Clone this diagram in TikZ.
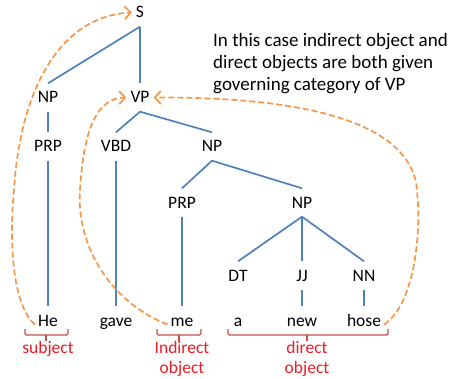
\documentclass[tikz,border=0pt]{standalone}
\usepackage{fontspec}
\setmainfont{Carlito}
\usetikzlibrary{arrows.meta}
\definecolor{treeblue}{HTML}{4F81BD}
\definecolor{linkorange}{HTML}{F79646}
\definecolor{bracered}{HTML}{C0504D}
\definecolor{labelred}{HTML}{EE1C24}
\tikzset{
  lbl/.style={font=\fontsize{17.5}{21}\selectfont, anchor=base, text height=11pt, text depth=0pt,
    inner xsep=3pt, inner ysep=8.5pt},
  edge/.style={draw=treeblue, line width=1.7pt},
  link/.style={draw=linkorange, line width=1.7pt, dash pattern=on 6pt off 3pt,
    -{Straight Barb[length=6pt,width=13pt,line width=1.7pt]}},
  brace/.style={draw=bracered, line width=1.4pt, rounded corners=1.5pt},
  role/.style={font=\fontsize{17.5}{21}\selectfont, text=labelred, anchor=base, inner sep=0pt},
  note/.style={font=\fontsize{19}{22}\selectfont, anchor=base west, inner sep=0pt}
}
\begin{document}
\begin{tikzpicture}[x=1pt,y=-1pt]
\useasboundingbox (0,0) rectangle (454,379);
% constituents
\node[lbl] (S)    at (140,18)  {S};
\node[lbl] (NPa)  at (48,103)  {NP};
\node[lbl] (VP)   at (140,103) {VP};
\node[lbl] (PRPa) at (48,152)  {PRP};
\node[lbl] (VBD)  at (116,152) {VBD};
\node[lbl] (NPb)  at (212,152) {NP};
\node[lbl] (PRPb) at (182,208) {PRP};
\node[lbl] (NPc)  at (302,208) {NP};
\node[lbl] (DT)   at (238,281) {DT};
\node[lbl] (JJ)   at (302,281) {JJ};
\node[lbl] (NN)   at (364,281) {NN};
% words
\node[lbl] (he)   at (48,326)  {He};
\node[lbl] (gave) at (116,326) {gave};
\node[lbl] (me)   at (182,326) {me};
\node[lbl] (a)    at (238,326) {a};
\node[lbl] (new)  at (302,326) {new};
\node[lbl] (hose) at (364,326) {hose};
% tree edges
\draw[edge] (S.south) -- (NPa.north);
\draw[edge] (S.south) -- (VP.north);
\draw[edge] (NPa.south) -- (PRPa.north);
\draw[edge] (PRPa.south) -- (he.north);
\draw[edge] (VP.south) -- (VBD.north);
\draw[edge] (VP.south) -- (NPb.north);
\draw[edge] (VBD.south) -- (gave.north);
\draw[edge] (NPb.south) -- (PRPb.north);
\draw[edge] (NPb.south) -- (NPc.north);
\draw[edge] (PRPb.south) -- (me.north);
\draw[edge] (NPc.south) -- (DT.north);
\draw[edge] (NPc.south) -- (JJ.north);
\draw[edge] (NPc.south) -- (NN.north);
\draw[edge] (JJ.south) -- (new.north);
\draw[edge] (NN.south) -- (hose.north);
% governing-category links
\coordinate (bendL) at (14,190);
\coordinate (bendM) at (80,190);
\coordinate (bendR) at (416,182);
\draw[link] ([yshift=-4pt]he.west) .. controls (12,305) and (9,240) .. (bendL)
  .. controls (20,90) and (60,16) .. ([xshift=-1pt]S.west);
\draw[link] ([yshift=-4pt]me.west) .. controls (110,302) and (76,245) .. (bendM)
  .. controls (84,122) and (100,98) .. ([xshift=-1pt]VP.west);
\draw[link] ([yshift=-4pt]hose.east) .. controls (414,305) and (423,232) .. (bendR)
  .. controls (402,120) and (300,97) .. ([xshift=1pt]VP.east);
% grammatical roles
\draw[brace] (25,329) -- (25,335) -- (68,335) -- (68,329);
\draw[bracered, line width=1.4pt] (46,335) -- (46,341);
\draw[brace] (157,329) -- (157,335) -- (201,335) -- (201,329);
\draw[bracered, line width=1.4pt] (179,335) -- (179,341);
\draw[brace] (228,329) -- (228,335) -- (388,335) -- (388,329);
\draw[bracered, line width=1.4pt] (307,335) -- (307,341);
\node[role] (subj)  at (48,353)  {subject};
\node[role] (iobj1) at (182,353) {Indirect};
\node[role] (iobj2) at (182,373) {object};
\node[role] (dobj1) at (307,353) {direct};
\node[role] (dobj2) at (307,373) {object};
% remark
\node[note] (n1) at (213,47) {In this case indirect object and};
\node[note] (n2) at (213,69) {direct objects are both given};
\node[note] (n3) at (213,91) {governing category of VP};
\end{tikzpicture}
\end{document}
